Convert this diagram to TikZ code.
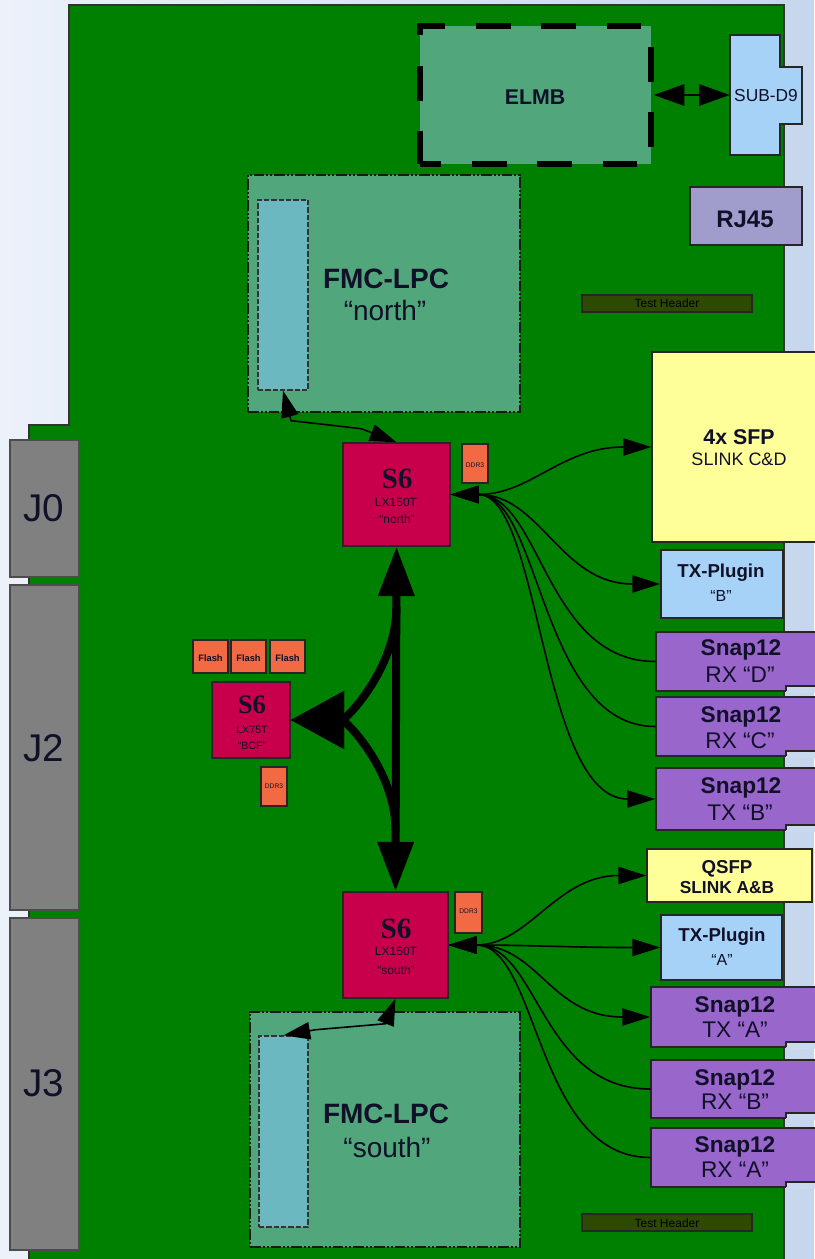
\documentclass[tikz,border=0pt]{standalone}
\usepackage{fontspec}
\setmainfont{Liberation Sans}
\newfontfamily\serifbf{Liberation Serif}
\usetikzlibrary{arrows.meta,fit,calc}

\definecolor{bgleft}{RGB}{236,241,250}
\definecolor{bgright}{RGB}{198,214,236}
\definecolor{notchbg}{RGB}{202,217,237}
\definecolor{board}{RGB}{0,128,0}
\definecolor{fmc}{RGB}{82,166,124}
\definecolor{fmcin}{RGB}{108,184,192}
\definecolor{chip}{RGB}{200,0,75}
\definecolor{mem}{RGB}{242,106,68}
\definecolor{ltblue}{RGB}{166,210,248}
\definecolor{yel}{RGB}{255,255,153}
\definecolor{purp}{RGB}{153,102,204}
\definecolor{lav}{RGB}{160,156,204}
\definecolor{jgray}{RGB}{128,128,128}
\definecolor{hdr}{RGB}{46,74,0}
\definecolor{txt}{RGB}{16,16,40}

\newcommand{\fsz}[2]{\fontsize{#1}{#2}\selectfont}

\tikzset{
  tipS/.tip={Triangle[length=21pt,width=13pt]},
  tipF/.tip={Triangle[length=20pt,width=13pt]},
  tipE/.tip={Triangle[length=23pt,width=16pt]},
  bigV/.tip={Triangle[length=37pt,width=26pt]},
  bigL/.tip={Triangle[length=40pt,width=42pt]},
}

\begin{document}
\begin{tikzpicture}[x=0.75pt,y=-0.75pt,
  box/.style={draw=black!85, line width=1.1pt, inner sep=0pt},
  lbl/.style={anchor=base, inner sep=0pt, text=txt},
  fmcbox/.style={draw=black!90, line width=1.2pt,
     dash pattern=on 8pt off 1.5pt on 1.5pt off 1.5pt on 1.5pt off 1.5pt,
     fill=fmc, inner sep=0pt},
  fmcinner/.style={draw=black!80, line width=1pt, dash pattern=on 4pt off 1.5pt,
     fill=fmcin, inner sep=0pt},
  chipbox/.style={box, fill=chip},
  membox/.style={box, fill=mem, line width=0.9pt},
  snapbox/.style={box, fill=purp},
  conn/.style={draw=black, line width=1.2pt},
  fat/.style={draw=black, line width=6pt},
  big/.style={lbl, font=\bfseries\fsz{17}{19}},
  reg/.style={lbl, font=\fsz{17}{19}},
]
\useasboundingbox (0,0) rectangle (814,1259);
\shade[left color=bgleft, right color=bgright] (0,0) rectangle (814,1259);

% board
\draw[fill=board, draw=black!80, line width=1pt]
  (69,5) -- (784,5) -- (784,1265) -- (29,1265) -- (29,425) -- (69,425) -- cycle;

% backplane connectors
\node[box, fill=jgray, draw=black!70, fit={(10,440) (79,577)}] (j0) {};
\node[box, fill=jgray, draw=black!70, fit={(10,585) (79,910)}] (j2) {};
\node[box, fill=jgray, draw=black!70, fit={(10,918) (79,1250)}] (j3) {};
\node[lbl, font=\fsz{29}{32}] (j0t) at (44,521) {J0};
\node[lbl, font=\fsz{29}{32}] (j2t) at (44,761) {J2};
\node[lbl, font=\fsz{29}{32}] (j3t) at (44,1096) {J3};

% ELMB and front connectors
\node[draw=black, line width=4pt, dash pattern=on 26pt off 23pt, dash phase=10pt, fill=fmc, inner sep=0pt,
      fit={(420,26) (651,164)}] (elmb) {};
\node[lbl, font=\bfseries\fsz{16}{18}] (elmbt) at (535,105) {ELMB};
\draw[fill=ltblue, draw=black!85, line width=1.1pt]
  (730,35) -- (780,35) -- (780,67) -- (802,67) -- (802,124) -- (780,124) -- (780,155) -- (730,155) -- cycle;
\node[inner sep=0pt, fit={(730,35) (802,155)}] (subd) {};
\node[lbl, font=\fsz{13}{15}] (subdt) at (766,102) {SUB-D9};
\draw[conn, line width=1.5pt, tipE-tipE] (elmb.east) -- (subd.west);

\node[box, fill=lav, fit={(690,187) (802,245)}] (rj) {};
\node[lbl, font=\bfseries\fsz{18}{20}] (rjt) at (745,227) {RJ45};

\node[box, fill=hdr, line width=0.8pt, fit={(582,295) (752,312)}] (th1) {};
\node[lbl, font=\fsz{9}{10}, text=black] (th1t) at (667,307) {Test Header};
\node[box, fill=hdr, line width=0.8pt, fit={(582,1214) (752,1231)}] (th2) {};
\node[lbl, font=\fsz{9}{10}, text=black] (th2t) at (667,1227) {Test Header};

% FMC north
\node[fmcbox, fit={(248,175) (520,412)}] (fmcn) {};
\node[fmcinner, fit={(258,200) (308,390)}] (fmcnin) {};
\node[lbl, font=\bfseries\fsz{21}{23}] (fmcnt1) at (386,288) {FMC-LPC};
\node[lbl, font=\fsz{21}{23}] (fmcnt2) at (385,320) {“north”};

% FMC south
\node[fmcbox, fit={(250,1012) (520,1247)}] (fmcs) {};
\node[fmcinner, fit={(259,1036) (308,1227)}] (fmcsin) {};
\node[lbl, font=\bfseries\fsz{21}{23}] (fmcst1) at (386,1123) {FMC-LPC};
\node[lbl, font=\fsz{21}{23}] (fmcst2) at (387,1157) {“south”};

% FPGAs
\node[chipbox, fit={(343,443) (450,546)}] (s6n) {};
\node[lbl, font=\serifbf\bfseries\fsz{22}{22}] (s6nt1) at (397,488) {S6};
\node[lbl, font=\fsz{9}{11}] (s6nt2) at (396,506) {LX150T};
\node[lbl, font=\fsz{9}{11}] (s6nt3) at (397,523) {“north”};

\node[chipbox, fit={(343,892) (448,998)}] (s6s) {};
\node[lbl, font=\serifbf\bfseries\fsz{22}{22}] (s6st1) at (396,938) {S6};
\node[lbl, font=\fsz{9}{11}] (s6st2) at (396,955) {LX150T};
\node[lbl, font=\fsz{9}{11}] (s6st3) at (396,974) {“south”};

\node[chipbox, fit={(212,682) (290,758)}] (bcf) {};
\node[lbl, font=\serifbf\bfseries\fsz{20}{20}] (bcft1) at (252,713) {S6};
\node[lbl, font=\fsz{8}{9}] (bcft2) at (252,733) {LX75T};
\node[lbl, font=\fsz{8}{9}] (bcft3) at (252,749) {“BCF”};

% memories
\node[membox, fit={(462,444) (488,483)}] (ddrn) {};
\node[lbl, font=\fsz{5}{6}] (ddrnt) at (475,467) {DDR3};
\node[membox, fit={(455,892) (482,933)}] (ddrs) {};
\node[lbl, font=\fsz{5}{6}] (ddrst) at (468.5,913) {DDR3};
\node[membox, fit={(261,767) (287,806)}] (ddrb) {};
\node[lbl, font=\fsz{5}{6}] (ddrbt) at (274,788) {DDR3};
\node[membox, fit={(193,640) (228,673)}] (fl1) {};
\node[membox, fit={(231,640) (266,673)}] (fl2) {};
\node[membox, fit={(270,640) (305,673)}] (fl3) {};
\node[lbl, font=\bfseries\fsz{7}{8}] (fl1t) at (210.5,661) {Flash};
\node[lbl, font=\bfseries\fsz{7}{8}] (fl2t) at (248.5,661) {Flash};
\node[lbl, font=\bfseries\fsz{7}{8}] (fl3t) at (287.5,661) {Flash};

% right side modules (north)
\node[box, fill=yel, fit={(652,352) (826,542)}] (sfp) {};
\node[lbl, font=\bfseries\fsz{16}{18}] (sfpt1) at (739,444) {4x SFP};
\node[lbl, font=\fsz{13.5}{15}] (sfpt2) at (739,465) {SLINK C\&D};

\node[box, fill=ltblue, fit={(661,550) (783,618)}] (plb) {};
\node[lbl, font=\bfseries\fsz{14}{15}] (plbt1) at (721,577) {TX-Plugin};
\node[lbl, font=\fsz{12}{13}] (plbt2) at (721,601) {“B”};

\node[snapbox, fit={(656,632) (825,691)}] (rxd) {};
\node[big] (rxdt1) at (741,655) {Snap12};
\node[reg] (rxdt2) at (740,682) {RX “D”};
\node[snapbox, fit={(656,697) (825,756)}] (rxc) {};
\node[big] (rxct1) at (741,722) {Snap12};
\node[reg] (rxct2) at (740,748) {RX “C”};
\node[snapbox, fit={(656,768) (825,830)}] (txbb) {};
\node[big] (txbbt1) at (741,793) {Snap12};
\node[reg] (txbbt2) at (740,820) {TX “B”};

% right side modules (south)
\node[box, fill=yel, fit={(647,849) (812,902)}] (qsfp) {};
\node[lbl, font=\bfseries\fsz{14}{15}] (qsfpt1) at (727,873) {QSFP};
\node[lbl, font=\bfseries\fsz{13}{14}] (qsfpt2) at (727,893) {SLINK A\&B};

\node[box, fill=ltblue, fit={(661,915) (782,980)}] (pla) {};
\node[lbl, font=\bfseries\fsz{14}{15}] (plat1) at (722,941) {TX-Plugin};
\node[lbl, font=\fsz{12}{13}] (plat2) at (722,965) {“A”};

\node[snapbox, fit={(651,987) (820,1047)}] (txa) {};
\node[big] (txat1) at (735,1012) {Snap12};
\node[reg] (txat2) at (735,1037) {TX “A”};
\node[snapbox, fit={(651,1060) (820,1118)}] (rxb) {};
\node[big] (rxbt1) at (735,1085) {Snap12};
\node[reg] (rxbt2) at (735,1109) {RX “B”};
\node[snapbox, fit={(651,1128) (820,1187)}] (rxa) {};
\node[big] (rxat1) at (735,1152) {Snap12};
\node[reg] (rxat2) at (735,1177) {RX “A”};

% notches of the Snap12 modules
\foreach \yb in {691,756,830,1047,1118,1187}{
  \fill[notchbg] (786,\yb-5) rectangle (816,\yb+2);
  \draw[draw=black!85, line width=1.1pt] (786,\yb) -- (786,\yb-5) -- (816,\yb-5);
}

% FMC links
\draw[conn, tipF-tipF] (fmcnin.south) -- ++(8,30) -- ++(70,8) -- (s6n.north);
\draw[conn, tipF-tipF] (s6s.south) -- ++(-10,25) -- ++(-70,6) -- (fmcsin.north);

% north fan-out
\draw[conn, tipS-tipS] (s6n.east) .. controls +(80,0) and +(-90,0) .. (sfp.west);
\draw[conn, tipS-tipS] (s6n.east) .. controls +(90,0) and +(-100,0) .. (plb.west);
\draw[conn, tipS-] (s6n.east) .. controls +(90,0) and +(-110,0) .. (rxd.west);
\draw[conn, tipS-] (s6n.east) .. controls +(90,0) and +(-115,0) .. (rxc.west);
\draw[conn, tipS-tipS] (s6n.east) .. controls +(90,0) and +(-115,0) .. (txbb.west);

% south fan-out
\draw[conn, tipS-tipS] (s6s.east) .. controls +(80,0) and +(-90,0) .. (qsfp.west);
\draw[conn, tipS-tipS] (s6s.east) .. controls +(80,0) and +(-90,0) .. (pla.west);
\draw[conn, tipS-tipS] (s6s.east) .. controls +(90,0) and +(-100,0) .. (txa.west);
\draw[conn, tipS-] (s6s.east) .. controls +(90,0) and +(-110,0) .. (rxb.west);
\draw[conn, tipS-] (s6s.east) .. controls +(90,0) and +(-115,0) .. (rxa.west);

% FPGA interconnect
\coordinate (ju) at ($(s6n.south)+(0,60)$);
\coordinate (jd) at ($(s6s.north)+(0,-60)$);
\draw[fat, bigL-] (bcf.east) .. controls (345,720) and (396,670) .. (ju);
\draw[fat, bigL-] (bcf.east) .. controls (345,720) and (396,770) .. (jd);
\draw[fat, bigV-bigV] (s6n.south) -- (s6s.north);
\end{tikzpicture}
\end{document}
